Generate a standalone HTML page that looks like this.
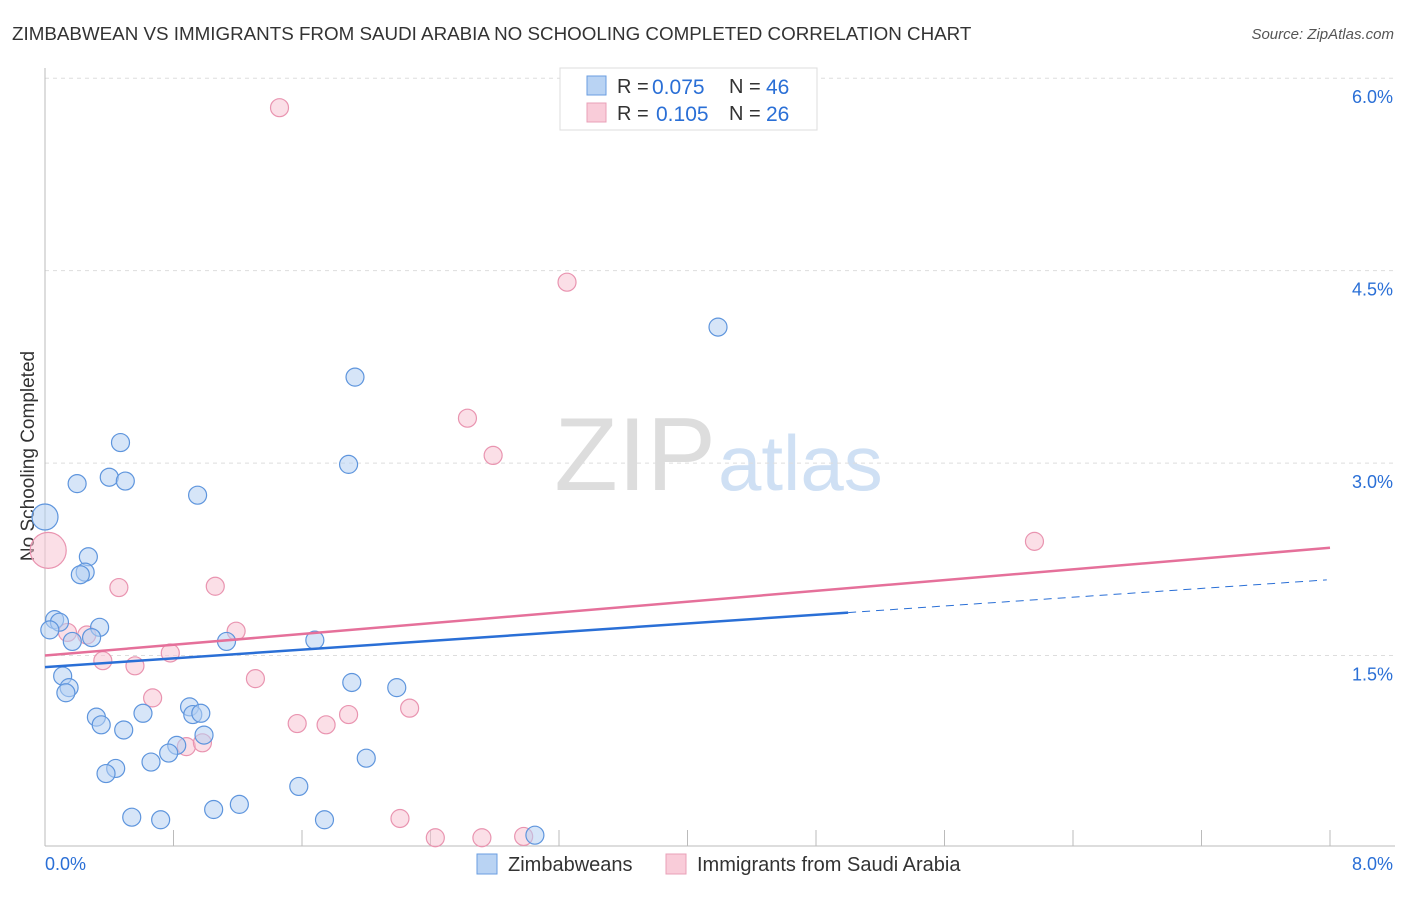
<!DOCTYPE html>
<html><head><meta charset="utf-8"><style>
body{margin:0;background:#fff;font-family:"Liberation Sans",sans-serif;}
svg text{font-family:"Liberation Sans",sans-serif;}
</style></head><body>
<svg id="c" width="1406" height="892">
<text x="12" y="40" font-size="18.8" fill="#333">ZIMBABWEAN VS IMMIGRANTS FROM SAUDI ARABIA NO SCHOOLING COMPLETED CORRELATION CHART</text>
<text x="1394" y="39" font-size="15" fill="#555" text-anchor="end" font-style="italic">Source: ZipAtlas.com</text>
<text x="34" y="456" font-size="19" fill="#333" text-anchor="middle" transform="rotate(-90 34 456)">No Schooling Completed</text>
<text x="716" y="490" font-size="104" fill="#ddd" text-anchor="end" font-family="Liberation Serif">ZIP</text>
<text x="718" y="490" font-size="78" fill="#cfe0f4">atlas</text>
<g id="grid"></g><g id="marks"></g>
<g>
<rect x="560" y="68" width="257" height="62" fill="#fff" stroke="#ddd"/>
<rect x="587" y="76" width="19" height="19" fill="#b9d3f3" stroke="#6a9ee0"/>
<rect x="587" y="103" width="19" height="19" fill="#f9ccd9" stroke="#e9a0b8"/>
<text x="617" y="93" font-size="20" fill="#333">R =</text>
<text x="652" y="94" font-size="21" fill="#2a6fd6">0.075</text>
<text x="729" y="93" font-size="20" fill="#333">N =</text>
<text x="766" y="94" font-size="21" fill="#2a6fd6">46</text>
<text x="617" y="120" font-size="20" fill="#333">R =</text>
<text x="656" y="121" font-size="21" fill="#2a6fd6">0.105</text>
<text x="729" y="120" font-size="20" fill="#333">N =</text>
<text x="766" y="121" font-size="21" fill="#2a6fd6">26</text>
</g>
<g>
<rect x="477" y="854" width="20" height="20" fill="#b9d3f3" stroke="#6a9ee0"/>
<text x="508" y="871" font-size="20" fill="#333">Zimbabweans</text>
<rect x="666" y="854" width="20" height="20" fill="#f9ccd9" stroke="#e9a0b8"/>
<text x="697" y="871" font-size="20" fill="#333">Immigrants from Saudi Arabia</text>
</g>
<text x="45" y="870" font-size="18" fill="#2a6fd6">0.0%</text>
<text x="1393" y="870" font-size="18" fill="#2a6fd6" text-anchor="end">8.0%</text>
</svg>
<script>
const yTicks=[1.5,3.0,4.5,6.0];
const xTicks=[0,0.8,1.6,2.4,3.2,4.0,4.8,5.6,6.4,7.2,8.0];
const blueX=[0,0.20,0.40,0.50,0.47,0.95,1.93,1.89,4.19,0.27,0.25,0.22,0.06,0.09,0.03,0.34,0.29,0.17,1.13,1.68,0.11,0.15,0.13,0.32,0.35,0.49,0.61,0.90,0.92,0.97,0.99,0.82,0.77,0.66,0.44,0.38,1.91,2.19,2.00,1.58,1.21,1.05,0.54,0.72,1.74,3.05];
const blueY=[2.58,2.84,2.89,2.86,3.16,2.75,3.67,2.99,4.06,2.27,2.15,2.13,1.78,1.76,1.70,1.72,1.64,1.61,1.61,1.62,1.34,1.25,1.21,1.02,0.96,0.92,1.05,1.10,1.04,1.05,0.88,0.80,0.74,0.67,0.62,0.58,1.29,1.25,0.70,0.48,0.34,0.30,0.24,0.22,0.22,0.10];
const blueR=[13,9,9,9,9,9,9,9,9,9,9,9,9,9,9,9,9,9,9,9,9,9,9,9,9,9,9,9,9,9,9,9,9,9,9,9,9,9,9,9,9,9,9,9,9,9];
const pinkX=[1.46,3.25,2.63,2.79,6.16,0.02,0.46,1.06,0.26,0.14,1.19,0.78,0.36,0.56,1.31,0.67,1.57,1.75,1.89,2.27,0.88,0.98,2.21,2.43,2.72,2.98];
const pinkY=[5.77,4.41,3.35,3.06,2.39,2.32,2.03,2.04,1.66,1.68,1.69,1.52,1.46,1.42,1.32,1.17,0.97,0.96,1.04,1.09,0.79,0.82,0.23,0.08,0.08,0.09];
const pinkR=[9,9,9,9,9,18,9,9,9,9,9,9,9,9,9,9,9,9,9,9,9,9,9,9,9,9];
const blueTrend=[1.41,2.09], pinkTrend=[1.50,2.34];
const NS="http://www.w3.org/2000/svg";
const X=v=>45+v/8*1285, Y=v=>848-v*128.3;
function mk(p,t,a){const e=document.createElementNS(NS,t);for(const k in a)e.setAttribute(k,a[k]);p.appendChild(e);return e;}
const g=document.getElementById('grid'), m=document.getElementById('marks');
for(const t of yTicks){const l=mk(g,'line',{x1:45,x2:1395,y1:Y(t),y2:Y(t),stroke:'#ddd','stroke-dasharray':'4,4'});


const tx=mk(g,'text',{x:1393,y:Y(t)+25,'font-size':18,fill:'#2a6fd6','text-anchor':'end'});tx.textContent=t.toFixed(1)+'%';

}
mk(g,'line',{x1:45,x2:45,y1:68,y2:846,stroke:'#bbb'});
mk(g,'line',{x1:45,x2:1395,y1:846,y2:846,stroke:'#bbb'});
for(const t of xTicks){const l=mk(g,'line',{x1:X(t),x2:X(t),y1:830,y2:846,stroke:'#bbb'});

}
function pts(xs,ys,rs,f,s,n){xs.forEach((x,i)=>{const c=mk(m,'circle',{cx:X(x),cy:Y(ys[i]),r:rs[i],fill:f,'fill-opacity':0.55,stroke:s,'stroke-width':1.2});

});}
pts(pinkX,pinkY,pinkR,'#f8c4d4','#e994b0','point-saudi');
pts(blueX,blueY,blueR,'#b5d0f2','#5e95dd','point-zimbabwean');
const lim=5.0;
const b1=mk(m,'line',{x1:X(0),y1:Y(blueTrend[0]),x2:X(lim),y2:Y(blueTrend[0]+(blueTrend[1]-blueTrend[0])*lim/8),stroke:'#2a6fd6','stroke-width':2.5});


const b2=mk(m,'line',{x1:X(lim),y1:Y(blueTrend[0]+(blueTrend[1]-blueTrend[0])*lim/8),x2:X(7.98),y2:Y(blueTrend[1]),stroke:'#2a6fd6','stroke-width':1,'stroke-dasharray':'8,6'});


const p1=mk(m,'line',{x1:X(0),y1:Y(pinkTrend[0]),x2:X(8),y2:Y(pinkTrend[1]),stroke:'#e5709a','stroke-width':2.5});


</script>
</body></html>
